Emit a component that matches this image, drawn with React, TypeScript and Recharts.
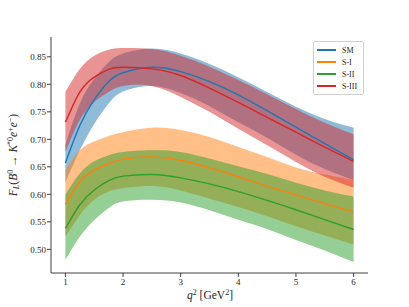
import { ComposedChart, Area, Line, XAxis, YAxis } from "recharts";

// #region Sample data
const qSquared = [1, 1.25, 1.5, 1.75, 2, 2.5, 3, 3.5, 4, 4.5, 5, 5.5, 6];

const smMid = [0.657, 0.725, 0.772, 0.805, 0.821, 0.831, 0.823, 0.805, 0.781, 0.752, 0.722, 0.692, 0.663];
const smLow = [0.622, 0.68, 0.728, 0.765, 0.787, 0.797, 0.784, 0.76, 0.731, 0.703, 0.672, 0.646, 0.626];
const smHigh = [0.69, 0.765, 0.81, 0.84, 0.856, 0.865, 0.856, 0.837, 0.813, 0.786, 0.759, 0.737, 0.721];

const s1Mid = [0.582, 0.623, 0.644, 0.656, 0.664, 0.668, 0.662, 0.648, 0.632, 0.615, 0.599, 0.583, 0.568];
const s1Low = [0.523, 0.562, 0.59, 0.605, 0.611, 0.615, 0.607, 0.592, 0.577, 0.56, 0.542, 0.525, 0.509];
const s1High = [0.645, 0.68, 0.696, 0.706, 0.713, 0.721, 0.717, 0.704, 0.686, 0.668, 0.649, 0.636, 0.626];

const s2Mid = [0.538, 0.581, 0.608, 0.625, 0.633, 0.636, 0.63, 0.619, 0.605, 0.589, 0.572, 0.554, 0.536];
const s2Low = [0.481, 0.523, 0.553, 0.575, 0.587, 0.59, 0.585, 0.571, 0.554, 0.537, 0.517, 0.498, 0.477];
const s2High = [0.6, 0.638, 0.66, 0.671, 0.677, 0.68, 0.677, 0.665, 0.651, 0.637, 0.621, 0.607, 0.596];

const s3Mid = [0.731, 0.786, 0.813, 0.827, 0.831, 0.828, 0.816, 0.793, 0.767, 0.74, 0.713, 0.686, 0.66];
const s3Low = [0.677, 0.735, 0.768, 0.786, 0.797, 0.797, 0.777, 0.75, 0.719, 0.689, 0.659, 0.632, 0.612];
const s3High = [0.786, 0.828, 0.852, 0.863, 0.866, 0.864, 0.852, 0.832, 0.808, 0.782, 0.755, 0.73, 0.709];

const xTicks = [1, 2, 3, 4, 5, 6];
const yTicks = [0.5, 0.55, 0.6, 0.65, 0.7, 0.75, 0.8, 0.85];

const series = [
  { key: "sm", name: "SM", color: "#1f77b4" },
  { key: "s1", name: "S-I", color: "#ff7f0e" },
  { key: "s2", name: "S-II", color: "#2ca02c" },
  { key: "s3", name: "S-III", color: "#d62728" },
];
// #endregion

const data = qSquared.map((q, i) => ({
  q,
  sm: smMid[i],
  smBand: [smLow[i], smHigh[i]],
  s1: s1Mid[i],
  s1Band: [s1Low[i], s1High[i]],
  s2: s2Mid[i],
  s2Band: [s2Low[i], s2High[i]],
  s3: s3Mid[i],
  s3Band: [s3Low[i], s3High[i]],
}));

const FONT = "'Liberation Serif', 'DejaVu Serif', serif";
const INK = "#262626";
const FRAME = "#404040";

const tickStyle = { fontSize: 9, fontFamily: FONT, fill: INK };

const YLabel = () => (
  <text
    x={17}
    y={155}
    transform="rotate(-90 17 155)"
    textAnchor="middle"
    fontFamily={FONT}
    fontSize={11.5}
    fill={INK}
  >
    <tspan fontStyle="italic">F</tspan>
    <tspan fontStyle="italic" fontSize={8} dy={2}>L</tspan>
    <tspan dy={-2}>(</tspan>
    <tspan fontStyle="italic">B</tspan>
    <tspan fontSize={8} dy={-4}>0</tspan>
    <tspan dy={4}> → </tspan>
    <tspan fontStyle="italic">K</tspan>
    <tspan fontSize={8} dy={-4}>*0</tspan>
    <tspan fontStyle="italic" dy={4}>e</tspan>
    <tspan fontSize={8} dy={-4}>+</tspan>
    <tspan fontStyle="italic" dy={4}>e</tspan>
    <tspan fontSize={8} dy={-4}>−</tspan>
    <tspan dy={4}>)</tspan>
  </text>
);

const XLabel = () => (
  <text x={210} y={299} textAnchor="middle" fontFamily={FONT} fontSize={11.5} fill={INK}>
    <tspan fontStyle="italic">q</tspan>
    <tspan fontSize={8} dy={-4}>2</tspan>
    <tspan dy={4}> [GeV</tspan>
    <tspan fontSize={8} dy={-4}>2</tspan>
    <tspan dy={4}>]</tspan>
  </text>
);

const LegendBox = () => (
  <div
    style={{
      position: "absolute",
      left: 313,
      top: 41,
      width: 46,
      border: "1px solid #d0d0d0",
      borderRadius: 2,
      background: "rgba(255,255,255,0.8)",
      padding: "2px 0 2px 3px",
      fontFamily: FONT,
      fontSize: 8,
      color: INK,
    }}
  >
    {series.map((s) => (
      <div key={s.key} style={{ display: "flex", alignItems: "center", height: 12 }}>
        <div style={{ width: 19, height: 2, background: s.color, marginRight: 6, flexShrink: 0 }} />
        <span>{s.name}</span>
      </div>
    ))}
  </div>
);

const App = () => (
  <div style={{ position: "relative", width: 409, height: 307 }}>
    <style>{"body{margin:0}"}</style>
    <ComposedChart
      width={409}
      height={307}
      data={data}
      margin={{ top: 37, right: 41, left: 0, bottom: 0 }}
    >
      <XAxis
        dataKey="q"
        type="number"
        domain={[0.75, 6.25]}
        ticks={xTicks}
        tick={tickStyle}
        tickSize={4}
        tickMargin={2}
        height={34}
        axisLine={{ stroke: FRAME }}
        tickLine={{ stroke: FRAME }}
        label={<XLabel />}
      />
      <XAxis
        xAxisId="top"
        orientation="top"
        type="number"
        domain={[0.75, 6.25]}
        height={0}
        tick={false}
        tickLine={false}
        axisLine={{ stroke: FRAME }}
      />
      <YAxis
        type="number"
        domain={[0.457, 0.886]}
        ticks={yTicks}
        tickFormatter={(v: number) => v.toFixed(2)}
        tick={tickStyle}
        tickSize={4}
        tickMargin={1}
        width={51}
        axisLine={{ stroke: FRAME }}
        tickLine={{ stroke: FRAME }}
        label={<YLabel />}
      />
      <YAxis
        yAxisId="right"
        orientation="right"
        type="number"
        domain={[0.457, 0.886]}
        width={0}
        tick={false}
        tickLine={false}
        axisLine={{ stroke: FRAME }}
      />
      {series.map((s) => (
        <Area
          key={`${s.key}-band`}
          dataKey={`${s.key}Band`}
          type="natural"
          stroke="none"
          fill={s.color}
          fillOpacity={0.5}
          isAnimationActive={false}
        />
      ))}
      {series.map((s) => (
        <Line
          key={s.key}
          dataKey={s.key}
          name={s.name}
          type="natural"
          stroke={s.color}
          strokeWidth={1.4}
          dot={false}
          isAnimationActive={false}
        />
      ))}
    </ComposedChart>
    <LegendBox />
  </div>
);

export default App;
